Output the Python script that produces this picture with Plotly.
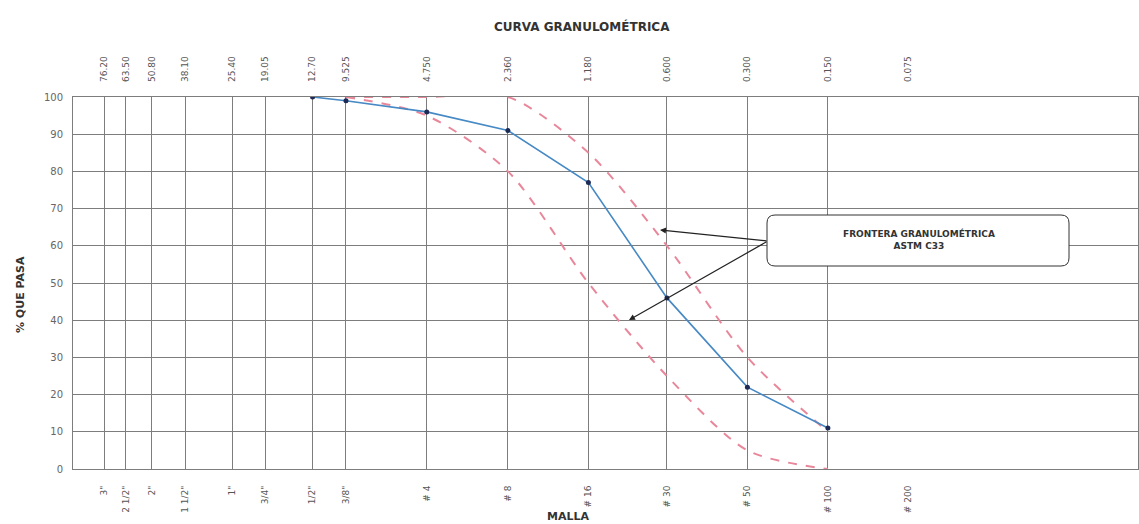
import math
import plotly.graph_objects as go

# ---- data ----
sieve_mm = [76.2, 63.5, 50.8, 38.1, 25.4, 19.05, 12.7, 9.525, 4.75, 2.36, 1.18, 0.6, 0.3, 0.15, 0.075]
sieve_names = ['3"', '2 1/2"', '2"', '1 1/2"', '1"', '3/4"', '1/2"', '3/8"',
               '# 4', '# 8', '# 16', '# 30', '# 50', '# 100', '# 200']
sieve_mm_text = ['76.20', '63.50', '50.80', '38.10', '25.40', '19.05', '12.70', '9.525',
                 '4.750', '2.360', '1.180', '0.600', '0.300', '0.150', '0.075']

curve_mm = [12.7, 9.525, 4.75, 2.36, 1.18, 0.6, 0.3, 0.15]
curve_pass = [100, 99, 96, 91, 77, 46, 22, 11]

limit_mm = [9.525, 4.75, 2.36, 1.18, 0.6, 0.3, 0.15]
upper_limit = [100, 100, 100, 85, 60, 30, 10]
lower_limit = [100, 95, 80, 50, 25, 5, 0]

y_ticks = [0, 10, 20, 30, 40, 50, 60, 70, 80, 90, 100]

# ---- layout geometry (pixels) ----
W, H = 1139, 524
L, R, T, B = 73, 1138, 97, 469
x_range = [2.0, -1.984]


def px_to_paper(px, py):
    return (px - L) / (R - L), (B - py) / (B - T)


def px_to_logx(px):
    return x_range[0] + (px - L) / (R - L) * (x_range[1] - x_range[0])


FONT = 'DejaVu Sans, Verdana, sans-serif'
grid_col = '#7d7d7d'
fig = go.Figure()

fig.add_trace(go.Scatter(x=limit_mm, y=upper_limit, mode='lines',
                         line=dict(color='#e9879a', width=2, dash='dash', shape='spline', smoothing=0.8),
                         hoverinfo='skip', showlegend=False))
fig.add_trace(go.Scatter(x=limit_mm, y=lower_limit, mode='lines',
                         line=dict(color='#e9879a', width=2, dash='dash', shape='spline', smoothing=0.8),
                         hoverinfo='skip', showlegend=False))
fig.add_trace(go.Scatter(x=curve_mm, y=curve_pass, mode='lines+markers',
                         line=dict(color='#4689c4', width=1.6),
                         marker=dict(color='#1c2a55', size=5),
                         showlegend=False))
# invisible traces to anchor overlay axes
fig.add_trace(go.Scatter(x=[sieve_mm[0]], y=[0], xaxis='x2', mode='markers',
                         marker=dict(opacity=0), hoverinfo='skip', showlegend=False))
fig.add_trace(go.Scatter(x=[sieve_mm[0]], y=[0], xaxis='x3', mode='markers',
                         marker=dict(opacity=0), hoverinfo='skip', showlegend=False))

xtick_font = dict(family=FONT, size=9, color='#555555')
ytick_font = dict(family=FONT, size=10, color='#666666')

fig.update_layout(
    width=W, height=H,
    margin=dict(l=L, r=W - R, t=T, b=H - B),
    paper_bgcolor='white', plot_bgcolor='white',
    xaxis=dict(type='log', range=x_range, tickvals=sieve_mm, ticktext=sieve_names,
               tickangle=-90, showgrid=False, zeroline=False, ticks='',
               tickfont=xtick_font, showline=True, linecolor=grid_col, mirror=True,
               ticklabelstandoff=12),
    xaxis2=dict(type='log', range=x_range, overlaying='x', side='top',
                tickvals=sieve_mm, ticktext=sieve_mm_text, tickangle=-90,
                showgrid=False, zeroline=False, ticks='', tickfont=xtick_font,
                ticklabelstandoff=14),
    xaxis3=dict(type='log', range=x_range, overlaying='x', side='bottom',
                tickvals=sieve_mm[:-1], showticklabels=False, showgrid=True,
                gridcolor=grid_col, gridwidth=1, zeroline=False, ticks=''),
    yaxis=dict(range=[0, 100], tickvals=y_ticks, showgrid=True, gridcolor=grid_col,
               gridwidth=1, zeroline=False, ticks='', tickfont=ytick_font,
               showline=True, linecolor=grid_col, mirror=True, ticklabelstandoff=7),
)

# y title
yx, yy = px_to_paper(20, 295)
fig.add_annotation(xref='paper', yref='paper', x=yx, y=yy, showarrow=False,
                   xanchor='center', yanchor='middle', textangle=-90,
                   text='<b>% QUE PASA</b>',
                   font=dict(family=FONT, size=11, color='#333333'))
# title
tx, ty = px_to_paper(582, 27)
fig.add_annotation(xref='paper', yref='paper', x=tx, y=ty, showarrow=False,
                   xanchor='center', yanchor='middle',
                   text='<b>CURVA GRANULOMÉTRICA</b>',
                   font=dict(family=FONT, size=12, color='#333333'))
# x title
mx, my = px_to_paper(568, 516)
fig.add_annotation(xref='paper', yref='paper', x=mx, y=my, showarrow=False,
                   xanchor='center', yanchor='middle',
                   text='<b>MALLA</b>',
                   font=dict(family=FONT, size=11, color='#333333'))

# rounded box
bx0, by0 = px_to_paper(767, 266)
bx1, by1 = px_to_paper(1069, 215)
rx = 8 / (R - L)
ry = 8 / (B - T)
path = (f'M {bx0 + rx},{by0} L {bx1 - rx},{by0} Q {bx1},{by0} {bx1},{by0 + ry} '
        f'L {bx1},{by1 - ry} Q {bx1},{by1} {bx1 - rx},{by1} '
        f'L {bx0 + rx},{by1} Q {bx0},{by1} {bx0},{by1 - ry} '
        f'L {bx0},{by0 + ry} Q {bx0},{by0} {bx0 + rx},{by0} Z')
fig.add_shape(type='path', path=path, xref='paper', yref='paper',
              line=dict(color='#333333', width=1), fillcolor='white', layer='above')
cx, cy = px_to_paper(919, 239)
fig.add_annotation(xref='paper', yref='paper', x=cx, y=cy, showarrow=False,
                   xanchor='center', yanchor='middle', align='center',
                   text='<b>FRONTERA GRANULOMÉTRICA<br>ASTM C33</b>',
                   font=dict(family=FONT, size=9, color='#333333'))

# arrows from box to limit curves
tail = (768, 241)
for hx, hy in [(660, 230), (629, 320)]:
    fig.add_annotation(x=px_to_logx(hx), y=(B - hy) / (B - T) * 100, xref='x', yref='y',
                       ax=tail[0] - hx, ay=tail[1] - hy, axref='pixel', ayref='pixel',
                       showarrow=True, arrowhead=2, arrowsize=1, arrowwidth=1.2,
                       arrowcolor='#222222', text='')

fig.write_html('out.html')
